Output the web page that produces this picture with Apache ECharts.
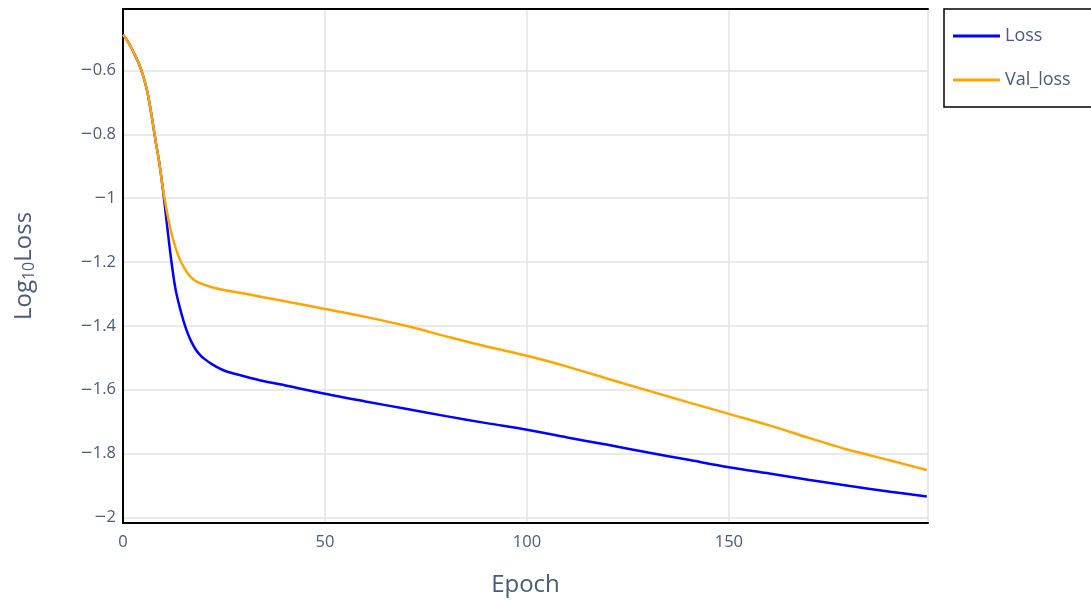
<!DOCTYPE html>
<html>
<head>
<meta charset="utf-8">
<script src="https://cdn.jsdelivr.net/npm/echarts@6/dist/echarts.min.js"></script>
<style>html,body{margin:0;padding:0;background:#fff}#c{width:1091px;height:600px}</style>
</head>
<body>
<div id="c"></div>
<script>
const lossEpochs = [0,1,2,3,4,5,6,7,8,9,10,11,12,13,14,15,16,17,18,19,20,22,25,30,35,40,50,60,70,80,90,100,110,120,130,140,150,160,170,180,190,199];
const lossValues = [-0.488,-0.505,-0.527,-0.553,-0.58,-0.617,-0.665,-0.735,-0.815,-0.89,-0.985,-1.095,-1.2,-1.285,-1.34,-1.385,-1.423,-1.452,-1.474,-1.49,-1.502,-1.52,-1.54,-1.558,-1.574,-1.586,-1.613,-1.637,-1.66,-1.683,-1.705,-1.726,-1.75,-1.773,-1.797,-1.82,-1.843,-1.863,-1.883,-1.902,-1.92,-1.935];
const valEpochs = [0,1,2,3,4,5,6,7,8,9,10,11,12,13,14,15,16,17,18,20,22,25,30,35,40,50,60,70,80,90,100,110,120,130,140,150,160,170,180,190,199];
const valValues = [-0.488,-0.505,-0.527,-0.553,-0.58,-0.617,-0.665,-0.735,-0.815,-0.89,-0.98,-1.05,-1.11,-1.155,-1.19,-1.215,-1.235,-1.25,-1.26,-1.271,-1.279,-1.288,-1.299,-1.311,-1.323,-1.347,-1.372,-1.4,-1.433,-1.465,-1.494,-1.528,-1.566,-1.603,-1.64,-1.676,-1.712,-1.752,-1.79,-1.822,-1.852];
const seriesNames = ['Loss', 'Val_loss'];
const xTitle = 'Epoch';

const pairs = (xs, ys) => xs.map((x, i) => [x, ys[i]]);
const fontFam = '"Open Sans", "DejaVu Sans", sans-serif';
const txt = '#4a5a78';
const X_MIN = 0, X_MAX = 199.3, Y_MIN = -2.018, Y_MAX = -0.407;

const frameAxis = {show: true, lineStyle: {color: '#000', width: 2}};
const chart = echarts.init(document.getElementById('c'), null, {renderer: 'canvas'});
chart.setOption({
  animation: false,
  backgroundColor: '#fff',
  grid: {left: 123, right: 163, top: 9, bottom: 77, outerBoundsMode: 'none', containLabel: false},
  legend: {
    orient: 'vertical', left: 944, top: 9,
    data: seriesNames,
    icon: 'rect', itemWidth: 47, itemHeight: 3, itemGap: 26,
    padding: [18, 40, 18, 9],
    borderColor: '#000', borderWidth: 1.5,
    textStyle: {color: txt, fontSize: 18, fontFamily: fontFam}
  },
  xAxis: [{
    type: 'value', min: X_MIN, max: X_MAX, interval: 50,
    name: xTitle, nameLocation: 'middle', nameGap: 50,
    nameTextStyle: {color: txt, fontSize: 24, fontFamily: fontFam},
    axisLine: frameAxis,
    axisTick: {show: false},
    axisLabel: {color: txt, fontSize: 16.5, fontFamily: fontFam, margin: 11, showMaxLabel: false},
    splitLine: {show: true, lineStyle: {color: '#e2e2e2', width: 1.5}}
  }, {
    type: 'value', position: 'top', min: X_MIN, max: X_MAX, interval: 50,
    axisLine: frameAxis, axisTick: {show: false}, axisLabel: {show: false}, splitLine: {show: false}
  }],
  yAxis: [{
    type: 'value', min: Y_MIN, max: Y_MAX, splitNumber: 8,
    name: 'Log{sub|10}Loss', nameLocation: 'middle', nameGap: 86, nameRotate: 90,
    nameTextStyle: {color: txt, fontSize: 24, fontFamily: fontFam,
      rich: {sub: {fontSize: 16, color: txt, fontFamily: fontFam, verticalAlign: 'bottom', padding: [10, 0, 0, 0]}}},
    axisLine: frameAxis,
    axisTick: {show: false},
    axisLabel: {color: txt, fontSize: 16.5, fontFamily: fontFam, margin: 7, showMinLabel: false, showMaxLabel: false,
      formatter: v => { const r = Math.round(v * 10) / 10; return r < 0 ? '{m|\u2212}' + String(-r) : String(r); },
      rich: {m: {fontFamily: '"DejaVu Sans"', fontSize: 15, color: txt}}},
    splitLine: {show: true, lineStyle: {color: '#e2e2e2', width: 1.5}}
  }, {
    type: 'value', position: 'right', min: Y_MIN, max: Y_MAX, splitNumber: 8,
    axisLine: frameAxis, axisTick: {show: false}, axisLabel: {show: false}, splitLine: {show: false}
  }],
  series: [
    {name: seriesNames[0], type: 'line', data: pairs(lossEpochs, lossValues), showSymbol: false, smooth: 0.3,
     lineStyle: {color: '#0000ff', width: 2.5}, itemStyle: {color: '#0000ff'}},
    {name: seriesNames[1], type: 'line', data: pairs(valEpochs, valValues), showSymbol: false, smooth: 0.3,
     lineStyle: {color: '#ffa500', width: 2.5}, itemStyle: {color: '#ffa500'}}
  ]
});
</script>
</body>
</html>
